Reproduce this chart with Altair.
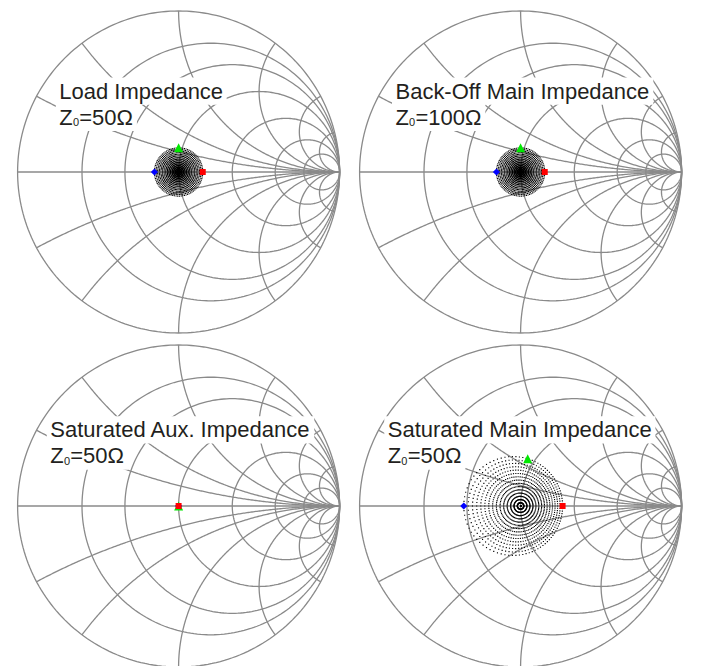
import numpy as np
import pandas as pd
import altair as alt

alt.data_transformers.disable_max_rows()

# ---------------- data ----------------
# Smith chart grid: constant-resistance circles and constant-reactance arcs
R_CIRCLES = [0.25, 0.5, 1.0, 2.0, 4.0, 8.0]
X_ARCS = [0.25, 0.5, 1.0, 2.0, 4.0, 8.0]

# load sweep (reflection coefficient magnitude / angle in degrees)
SWEEP_RHO = [0.0, 0.01, 0.02, 0.03, 0.04, 0.05, 0.06, 0.07, 0.08,
             0.09, 0.10, 0.11, 0.12, 0.13, 0.14, 0.15]
SWEEP_THETA_DEG = [0, 4, 8, 12, 16, 20, 24, 28, 32, 36, 40, 44, 48, 52, 56,
                   60, 64, 68, 72, 76, 80, 84, 88, 92, 96, 100, 104, 108, 112,
                   116, 120, 124, 128, 132, 136, 140, 144, 148, 152, 156, 160,
                   164, 168, 172, 176, 180, 184, 188, 192, 196, 200, 204, 208,
                   212, 216, 220, 224, 228, 232, 236, 240, 244, 248, 252, 256,
                   260, 264, 268, 272, 276, 280, 284, 288, 292, 296, 300, 304,
                   308, 312, 316, 320, 324, 328, 332, 336, 340, 344, 348, 352,
                   356]

# highlighted sweep points
MARKER_NAMES = ["left", "top", "right"]
MARKER_RHO = [0.15, 0.15, 0.15]
MARKER_THETA_DEG = [180, 90, 0]

PANEL_TITLES = ["Load Impedance", "Back-Off Main Impedance",
                "Saturated Aux. Impedance", "Saturated Main Impedance"]
PANEL_Z0 = ["50", "100", "50", "50"]
# how the load sweep appears at each reference plane
PANEL_MAPPING = ["load", "load", "collapsed", "saturated_main"]

# ---------------- styles / layout ----------------
R_PX = 161.0
GRID_COLOR = "#8a8a8a"
GRID_WIDTH = 1.3
TEXT_COLOR = "#231f20"
FONT = "Liberation Sans"
FS = 22
TRIANGLE = "M0,-1L1,1L-1,1Z"
MARKER_STYLE = {
    "left": ("diamond", "#0000ff", 52),
    "top": (TRIANGLE, "#00e800", 81),
    "right": ("square", "#ff0000", 36),
}
# label anchor (left x, baseline of line 1, baseline of line 2) in Gamma units
LABEL_POS = [(-0.741, 0.456, 0.293), (-0.777, 0.456, 0.293),
             (-0.797, 0.427, 0.264), (-0.825, 0.427, 0.264)]

ARIAL_W = {'L': .556, 'o': .556, 'a': .556, 'd': .556, ' ': .278, 'I': .278,
           'm': .833, 'p': .556, 'e': .556, 'n': .556, 'c': .5, 'B': .667,
           'k': .5, '-': .333, 'O': .778, 'f': .278, 'M': .833, 'i': .222,
           'S': .667, 't': .278, 'u': .556, 'r': .333, 'A': .667, 'x': .5,
           '.': .278, '=': .584, '0': .556, '1': .556, '5': .556, 'Ω': .768,
           'Z': .611}


def text_w(s, fs):
    return sum(ARIAL_W.get(ch, .556) for ch in s) * fs


# ---------------- grid geometry ----------------
rows = []
t = np.linspace(0, 2 * np.pi, 241)
for i, a in enumerate(t):
    rows.append(("outer", i, np.cos(a), np.sin(a)))
for r in R_CIRCLES:
    c, rad = r / (1 + r), 1 / (1 + r)
    for i, a in enumerate(t):
        rows.append((f"r{r}", i, c + rad * np.cos(a), rad * np.sin(a)))
tt = np.linspace(0, np.pi / 2, 241)[:-1]
for xv in X_ARCS:
    for s in (1, -1):
        z = np.tan(tt) + 1j * s * xv
        g = (z - 1) / (z + 1)
        for i, gg in enumerate(g):
            rows.append((f"x{s * xv}", i, gg.real, gg.imag))
        rows.append((f"x{s * xv}", len(g), 1.0, 0.0))
rows.append(("axis", 0, -1.0, 0.0))
rows.append(("axis", 1, 1.0, 0.0))
grid_df = pd.DataFrame(rows, columns=["line", "idx", "gx", "gy"]).round(5)


def map_gamma(g, mode):
    if mode == "load":
        return g
    if mode == "collapsed":
        return g * 0
    # saturated main: z_main = 2 z_load - 1  ->  G = 2G/(1+G)
    return 2 * g / (1 + g)


sweep = np.array([rho * np.exp(1j * np.deg2rad(th))
                  for rho in SWEEP_RHO for th in SWEEP_THETA_DEG])
mk = np.array([rho * np.exp(1j * np.deg2rad(th))
               for rho, th in zip(MARKER_RHO, MARKER_THETA_DEG)])

sx = alt.Scale(domain=[-1, 1], nice=False, zero=False)
sy = alt.Scale(domain=[-1, 1], nice=False, zero=False)


def X(f):
    return alt.X(f, type="quantitative", scale=sx, axis=None)


def Y(f):
    return alt.Y(f, type="quantitative", scale=sy, axis=None)


def panel(k):
    mode = PANEL_MAPPING[k]
    g = map_gamma(sweep, mode)
    dots = pd.DataFrame({"dx": g.real, "dy": g.imag}).round(5)
    if mode == "collapsed":
        dots = dots.iloc[:1]
    gm = map_gamma(mk, mode)
    mdf = pd.DataFrame({
        "mx": gm.real, "my": gm.imag,
        "shape": [MARKER_STYLE[n][0] for n in MARKER_NAMES],
        "color": [MARKER_STYLE[n][1] for n in MARKER_NAMES],
        "size": [MARKER_STYLE[n][2] for n in MARKER_NAMES],
    })
    x0, y1, y2 = LABEL_POS[k]
    title = PANEL_TITLES[k]
    rest = "=" + PANEL_Z0[k] + "Ω"
    w1 = text_w(title, FS)
    sub_dx = 13.6
    rest_dx = sub_dx + text_w("0", 11) + 0.2
    w2 = rest_dx + text_w(rest, FS)
    pad = 3.5
    asc, desc = 0.905 * FS + 1.2, 0.212 * FS + 1.5
    boxes = pd.DataFrame({
        "bx0": [x0 - pad / R_PX, x0 - pad / R_PX],
        "bx1": [x0 + (w1 + pad) / R_PX, x0 + (w2 + pad) / R_PX],
        "by0": [y1 + asc / R_PX, y2 + asc / R_PX],
        "by1": [y1 - desc / R_PX, y2 - desc / R_PX],
    })
    lab = pd.DataFrame({"lx": [x0], "l1": [y1], "l2": [y2], "t1": [title],
                        "tz": ["Z"], "ts": ["0"], "tr": [rest]})

    grid = alt.Chart(grid_df).mark_line(
        color=GRID_COLOR, strokeWidth=GRID_WIDTH, interpolate="linear"
    ).encode(x=X("gx"), y=Y("gy"), detail="line:N", order="idx:Q")
    dot_layer = alt.Chart(dots).mark_square(
        size=1.3, color="black", opacity=1
    ).encode(x=X("dx"), y=Y("dy"))
    mark_layer = alt.Chart(mdf).mark_point(filled=True, opacity=1).encode(
        x=X("mx"), y=Y("my"),
        shape=alt.Shape("shape:N", scale=None),
        color=alt.Color("color:N", scale=None),
        size=alt.Size("size:Q", scale=None),
    )
    box_layer = alt.Chart(boxes).mark_rect(color="white", opacity=1).encode(
        x=X("bx0"), x2="bx1", y=Y("by0"), y2="by1")
    tkw = dict(align="left", baseline="alphabetic", font=FONT, color=TEXT_COLOR)
    t1 = alt.Chart(lab).mark_text(fontSize=FS, **tkw).encode(
        x=X("lx"), y=Y("l1"), text="t1:N")
    tz = alt.Chart(lab).mark_text(fontSize=FS, **tkw).encode(
        x=X("lx"), y=Y("l2"), text="tz:N")
    ts = alt.Chart(lab).mark_text(fontSize=11, dx=sub_dx, dy=1.5, **tkw).encode(
        x=X("lx"), y=Y("l2"), text="ts:N")
    tr = alt.Chart(lab).mark_text(fontSize=FS, dx=rest_dx, **tkw).encode(
        x=X("lx"), y=Y("l2"), text="tr:N")
    return alt.layer(grid, box_layer, t1, tz, ts, tr, dot_layer, mark_layer).properties(
        width=2 * R_PX, height=2 * R_PX)


chart = alt.concat(
    panel(0), panel(1), panel(2), panel(3), columns=2,
    spacing={"row": 12, "column": 20}, bounds="flush"
).properties(
    padding={"left": 6.6, "top": 0, "right": 0, "bottom": 0}
).configure_view(stroke=None)

chart.save("out.html", embed_options={"renderer": "svg", "actions": False})
